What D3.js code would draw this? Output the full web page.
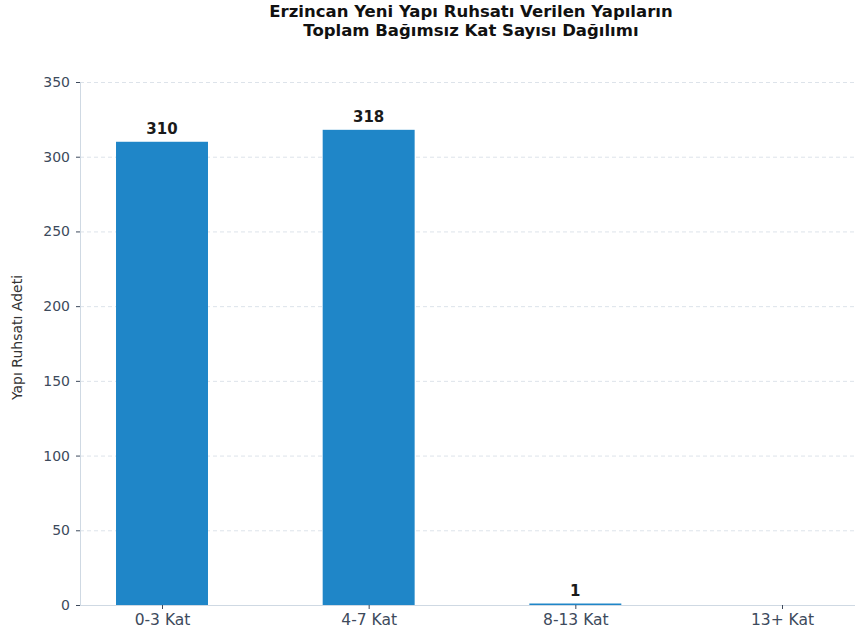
<!DOCTYPE html>
<html><head><meta charset="utf-8">
<script src="https://cdn.jsdelivr.net/npm/d3@7"></script>
<style>body{margin:0;background:#fff;}svg{display:block;font-family:"DejaVu Sans",sans-serif;}</style>
</head><body><svg id="c" width="856" height="638"></svg>
<script>
const categories = ["0-3 Kat", "4-7 Kat", "8-13 Kat", "13+ Kat"];
const values = [310, 318, 1, 0];
const yTicks = [0, 50, 100, 150, 200, 250, 300, 350];
const titleLines = ["Erzincan Yeni Yapı Ruhsatı Verilen Yapıların", "Toplam Bağımsız Kat Sayısı Dağılımı"];
const yLabel = "Yapı Ruhsatı Adeti";

(function(){
const svg = d3.select("#c");
const mLeft = 80, mRight = 855, mTop = 82, mBottom = 605;
const x = d3.scalePoint().domain(categories).range([162, 782]);
const bw = x.step() * 0.445;
const y = d3.scaleLinear().domain([0, 350]).range([mBottom, mTop]);
const textCol = "#3d4a5c", axisCol = "#cfd9e3";
const rows = categories.map((c,i)=>({c, v: values[i]}));

// grid
svg.append("g").selectAll("line").data(yTicks.filter(d=>d>0)).join("line")
  .attr("x1", mLeft).attr("x2", mRight).attr("y1", d=>y(d)+0.5).attr("y2", d=>y(d)+0.5)
  .attr("stroke", "#dde3ea").attr("stroke-dasharray", "4,3").attr("stroke-width", 1);

// bars
svg.append("g").selectAll("rect").data(rows).join("rect")
  .attr("x", d=>x(d.c) - bw/2).attr("width", bw)
  .attr("y", d=>y(d.v)).attr("height", d=>Math.max(0, mBottom - y(d.v)))
  .attr("fill", "#1f86c8");

// value labels
svg.append("g").selectAll("text").data(rows.filter(d=>d.v>0)).join("text")
  .attr("x", d=>x(d.c))
  .attr("y", d=>y(d.v) - 8)
  .attr("text-anchor", "middle").attr("font-size", 15).attr("font-weight", "bold").attr("fill", "#1a1a1a")
  .text(d=>d.v);

// y axis
const ya = svg.append("g").attr("transform", `translate(${mLeft},0)`)
  .call(d3.axisLeft(y).tickValues(yTicks).tickSize(4).tickPadding(6));
ya.select(".domain").attr("stroke", axisCol);
ya.selectAll(".tick line").attr("stroke", textCol);
ya.selectAll("text").attr("font-size", 14).attr("fill", textCol).attr("font-family", "DejaVu Sans");

// x axis
const xa = svg.append("g").attr("transform", `translate(0,${mBottom})`)
  .call(d3.axisBottom(x).tickSize(4).tickPadding(5));
xa.select(".domain").attr("d", `M${mLeft},0.5H${mRight}`).attr("stroke", axisCol);
xa.selectAll(".tick line").attr("stroke", textCol);
xa.selectAll("text").attr("font-size", 15.5).attr("fill", textCol).attr("font-family", "DejaVu Sans");

// y label
svg.append("text").attr("transform", `translate(22,${(mTop+mBottom)/2 - 6}) rotate(-90)`)
  .attr("text-anchor", "middle").attr("font-size", 14).attr("fill", "#333")
  .text(yLabel);

// title
svg.append("g").selectAll("text").data(titleLines).join("text")
  .attr("x", 471).attr("y", (d,i)=>17 + i*19)
  .attr("text-anchor", "middle").attr("font-size", 16.5).attr("font-weight", "bold").attr("fill", "#111")
  .text(d=>d);
})();
</script></body></html>
